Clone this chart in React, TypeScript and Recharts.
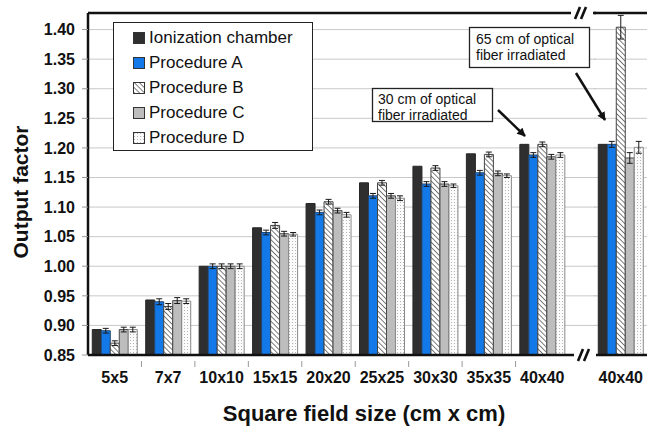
import React from "react"
import {
  BarChart,
  Bar,
  XAxis,
  YAxis,
  CartesianGrid,
  ErrorBar,
  ReferenceLine,
  Legend
} from "recharts"

// field sizes; the last one (65 cm of fiber irradiated) sits after the axis break
const fieldSizes = ["5x5", "7x7", "10x10", "15x15", "20x20", "25x25", "30x30", "35x35", "40x40", "40x40"]

const ionChamber = [0.893, 0.943, 1.0, 1.065, 1.106, 1.141, 1.169, 1.19, 1.206, 1.206]
const procA = [0.891, 0.94, 1.0, 1.057, 1.091, 1.119, 1.139, 1.158, 1.188, 1.206]
const procB = [0.87, 0.932, 1.0, 1.069, 1.109, 1.141, 1.166, 1.189, 1.206, 1.404]
const procC = [0.893, 0.942, 1.0, 1.055, 1.094, 1.119, 1.139, 1.157, 1.185, 1.183]
const procD = [0.893, 0.941, 1.0, 1.054, 1.087, 1.115, 1.136, 1.153, 1.188, 1.201]

const procAErr = [0.004, 0.005, 0.004, 0.004, 0.004, 0.004, 0.004, 0.004, 0.004, 0.005]
const procBErr = [0.004, 0.005, 0.004, 0.005, 0.004, 0.004, 0.004, 0.004, 0.004, 0.02]
const procCErr = [0.004, 0.005, 0.004, 0.004, 0.004, 0.004, 0.004, 0.004, 0.004, 0.009]
const procDErr = [0.004, 0.004, 0.004, 0.003, 0.004, 0.004, 0.003, 0.003, 0.004, 0.01]

const yTicks = [0.85, 0.9, 0.95, 1.0, 1.05, 1.1, 1.15, 1.2, 1.25, 1.3, 1.35, 1.4]
const Y_MIN = 0.85
const Y_MAX = 1.428
const BREAK_AT = 9

const FONT = "'Liberation Sans', Arial, sans-serif"

const series = [
  { key: "ion", name: "Ionization chamber", fill: "#2f2f2f", stroke: "#262626", err: "" },
  { key: "a", name: "Procedure A", fill: "#1479e8", stroke: "#23456e", err: "aErr" },
  { key: "b", name: "Procedure B", fill: "url(#hatchB)", stroke: "#444", err: "bErr" },
  { key: "c", name: "Procedure C", fill: "#bdbdbd", stroke: "#4a4a4a", err: "cErr" },
  { key: "d", name: "Procedure D", fill: "url(#dotsD)", stroke: "#8a8a8a", err: "dErr" }
]

const rows = fieldSizes.map((size, i) => ({
  size,
  ion: ionChamber[i],
  a: procA[i],
  b: procB[i],
  c: procC[i],
  d: procD[i],
  aErr: procAErr[i],
  bErr: procBErr[i],
  cErr: procCErr[i],
  dErr: procDErr[i]
}))

const leftRows = rows.slice(0, BREAK_AT)
const rightRows = rows.slice(BREAK_AT)

const tickStyle = { fill: "#111", fontSize: 16, fontWeight: "bold", fontFamily: FONT }

// x tick: label at the band centre plus a small mark at the band's left edge
function FieldTick(props: any) {
  const { x, y, payload, index } = props
  const half = payload && payload.offset ? payload.offset : 26.7
  return (
    <g>
      {index > 0 ? (
        <line x1={x - half} y1={y - 11} x2={x - half} y2={y - 5} stroke="#999" strokeWidth={1} />
      ) : null}
      <text x={x} y={y} dy="0.71em" textAnchor="middle" {...tickStyle}>
        {payload.value}
      </text>
    </g>
  )
}

function renderBars() {
  return series.map(s => (
    <Bar
      key={s.key}
      dataKey={s.key}
      name={s.name}
      fill={s.fill}
      stroke={s.stroke}
      strokeWidth={1}
      isAnimationActive={false}
    >
      {s.err ? (
        <ErrorBar dataKey={s.err} width={3} stroke="#1a1a1a" strokeWidth={1} isAnimationActive={false} />
      ) : null}
    </Bar>
  ))
}

function LegendBox() {
  return (
    <div
      style={{
        boxSizing: "border-box",
        width: 200,
        height: 129,
        border: "1.5px solid #222",
        background: "#fff",
        paddingTop: 2,
        paddingLeft: 19,
        fontFamily: FONT,
        fontSize: 17,
        color: "#111"
      }}
    >
      {series.map(s => (
        <div key={s.key} style={{ height: 25, display: "flex", alignItems: "center" }}>
          <svg width={12} height={12} style={{ marginRight: 4 }}>
            <rect x={0.5} y={0.5} width={11} height={11} fill={s.fill} stroke="#333" strokeWidth={1} />
          </svg>
          <span>{s.name}</span>
        </div>
      ))}
    </div>
  )
}

function Slashes({ x, y }: { x: number; y: number }) {
  return (
    <g>
      <rect x={x - 4} y={y - 7} width={22} height={14} fill="#fff" />
      <line x1={x} y1={y + 6} x2={x + 5} y2={y - 6} stroke="#111" strokeWidth={2.6} />
      <line x1={x + 6} y1={y + 6} x2={x + 11} y2={y - 6} stroke="#111" strokeWidth={2.6} />
    </g>
  )
}

export default function App() {
  return (
    <div
      style={{
        position: "absolute",
        left: 0,
        top: 0,
        width: 647,
        height: 429,
        overflow: "hidden",
        background: "#fff",
        fontFamily: FONT
      }}
    >
      <svg width={0} height={0} style={{ position: "absolute" }}>
        <defs>
          <pattern id="hatchB" width={3.6} height={3.6} patternUnits="userSpaceOnUse" patternTransform="rotate(-45)">
            <rect width={3.6} height={3.6} fill="#fff" />
            <line x1={0} y1={0} x2={0} y2={3.6} stroke="#707070" strokeWidth={1.8} />
          </pattern>
          <pattern id="dotsD" width={3} height={3} patternUnits="userSpaceOnUse">
            <rect width={3} height={3} fill="#fbfbfb" />
            <rect x={1} y={1} width={1} height={1} fill="#b5b5b5" />
          </pattern>
        </defs>
      </svg>

      <div style={{ position: "absolute", left: 0, top: 0 }}>
        <BarChart
          width={600}
          height={429}
          data={leftRows}
          margin={{ top: 13, right: 4, bottom: 0, left: 0 }}
          barCategoryGap="8%"
          barGap={0}
        >
          <CartesianGrid vertical={false} stroke="#c9c9c9" />
          <XAxis
            dataKey="size"
            height={74}
            padding={{ left: 0, right: 27 }}
            tickLine={false}
            tickMargin={11}
            axisLine={{ stroke: "#111", strokeWidth: 2.5 }}
            tick={<FieldTick />}
            interval={0}
          />
          <YAxis
            width={88}
            domain={[Y_MIN, Y_MAX]}
            ticks={yTicks}
            allowDataOverflow
            tickFormatter={(v: number) => v.toFixed(2)}
            tick={tickStyle}
            tickSize={6}
            tickMargin={7}
            tickLine={{ stroke: "#999" }}
            axisLine={{ stroke: "#111", strokeWidth: 2.5 }}
          />
          <ReferenceLine y={Y_MAX} stroke="#111" strokeWidth={2.5} />
          {renderBars()}
          <Legend
            layout="vertical"
            align="center"
            verticalAlign="middle"
            wrapperStyle={{ left: 113, top: 22, width: 200, height: 129 }}
            content={() => <LegendBox />}
          />
        </BarChart>
      </div>

      <div style={{ position: "absolute", left: 594, top: 0 }}>
        <BarChart
          width={60}
          height={429}
          data={rightRows}
          margin={{ top: 13, right: 6.5, bottom: 0, left: 0 }}
          barCategoryGap="8%"
          barGap={0}
        >
          <CartesianGrid vertical={false} stroke="#c9c9c9" />
          <XAxis
            dataKey="size"
            height={74}
            tickLine={false}
            tickMargin={11}
            axisLine={{ stroke: "#111", strokeWidth: 2.5 }}
            tick={tickStyle}
            interval={0}
          />
          <YAxis hide domain={[Y_MIN, Y_MAX]} ticks={yTicks} allowDataOverflow />
          <ReferenceLine y={Y_MAX} stroke="#111" strokeWidth={2.5} />
          {renderBars()}
        </BarChart>
      </div>

      <svg
        width={647}
        height={429}
        style={{ position: "absolute", left: 0, top: 0, pointerEvents: "none" }}
        fontFamily={FONT}
      >
        <defs>
          <marker id="arrowHead" viewBox="0 0 10 10" refX={9} refY={5} markerWidth={3.6} markerHeight={3.4} orient="auto">
            <path d="M0,0 L10,5 L0,10 z" fill="#111" />
          </marker>
        </defs>

        <Slashes x={575} y={13} />
        <Slashes x={578} y={355} />

        <rect x={372.5} y={88.5} width={120} height={33} fill="#fff" stroke="#222" strokeWidth={1.3} />
        <text x={378} y={103.5} fontSize={14} fill="#111">30 cm of optical</text>
        <text x={378} y={119.5} fontSize={14} fill="#111">fiber irradiated</text>
        <line x1={498} y1={110} x2={525} y2={136} stroke="#111" strokeWidth={2.5} markerEnd="url(#arrowHead)" />

        <rect x={469.5} y={27.5} width={120} height={40} fill="#fff" stroke="#222" strokeWidth={1.3} />
        <text x={476} y={43.5} fontSize={14} fill="#111">65 cm of optical</text>
        <text x={476} y={60} fontSize={14} fill="#111">fiber irradiated</text>
        <line x1={576} y1={73} x2={605} y2={120} stroke="#111" strokeWidth={2.5} markerEnd="url(#arrowHead)" />

        <text
          transform="translate(27.5,192) rotate(-90)"
          x={0}
          y={0}
          textAnchor="middle"
          fontSize={21}
          fontWeight="bold"
          fill="#111"
        >
          Output factor
        </text>
        <text x={364} y={421} textAnchor="middle" fontSize={22} fontWeight="bold" fill="#111">
          Square field size (cm x cm)
        </text>
      </svg>
    </div>
  )
}
